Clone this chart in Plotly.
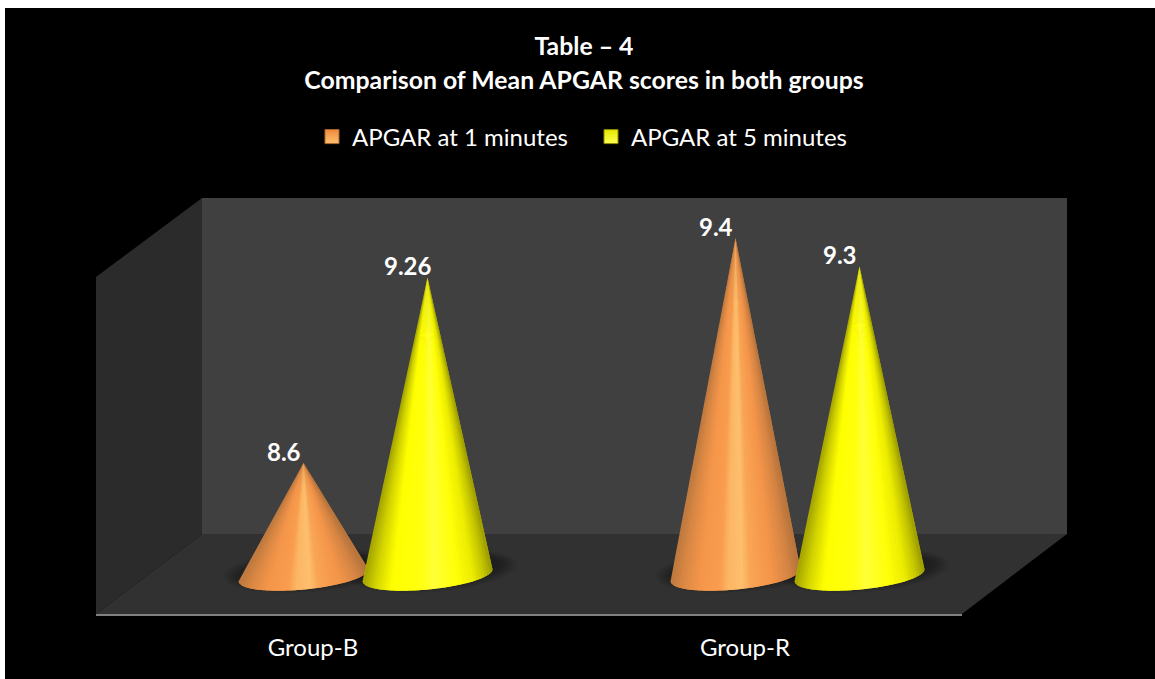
import math
import plotly.graph_objects as go

# Chart data
groups = ["Group-B", "Group-R"]
series_names = ["APGAR at 1 minutes", "APGAR at 5 minutes"]
apgar_1_min = [8.6, 9.4]
apgar_5_min = [9.26, 9.3]
labels_1_min = ["8.6", "9.4"]
labels_5_min = ["9.26", "9.3"]

W, H = 1155, 679
PLOT_BOTTOM = 614           # pixel row of the category axis
AXIS_LEFT, AXIS_RIGHT = 96, 962

# Scales: one category step and one score unit, in pixels
PX_PER_GROUP = 432.0
PX_PER_SCORE = 281.25
GROUP0_PX = 365.5
SCORE_REF, SCORE_REF_PX = 8.6, 463.0
BASE_SCORE = 8.2
SERIES_OFFSET = 62.0 / PX_PER_GROUP


def score_at(py):
    return SCORE_REF + (SCORE_REF_PX - py) / PX_PER_SCORE


def group_at(px):
    return (px - GROUP0_PX) / PX_PER_GROUP


def pap_x(px):
    return px / W


def pap_y(py):
    return 1 - py / PLOT_BOTTOM


def hex_rgb(c):
    return tuple(int(c[i:i + 2], 16) for i in (1, 3, 5))


def shade(stops, u):
    """Colour across the cone's width, u running from -1 (left) to 1 (right)."""
    for (u0, c0), (u1, c1) in zip(stops, stops[1:]):
        if u <= u1:
            f = (u - u0) / (u1 - u0)
            a, b = hex_rgb(c0), hex_rgb(c1)
            return "rgb({},{},{})".format(*(round(a[k] + (b[k] - a[k]) * f) for k in range(3)))
    return stops[-1][1]


ORANGE_STOPS = [(-1.0, "#bd783e"), (-0.82, "#d98744"), (-0.55, "#f5964a"), (-0.24, "#f99d4f"),
                (-0.12, "#fcb563"), (0.1, "#fdc06e"), (0.24, "#f9a455"), (0.55, "#f5964a"),
                (0.82, "#d68544"), (1.0, "#b5733b")]
YELLOW_STOPS = [(-1.0, "#a3a300"), (-0.8, "#d4d400"), (-0.55, "#ffff00"), (-0.1, "#ffff10"),
                (0.1, "#ffff38"), (0.45, "#ffff08"), (0.7, "#ecec00"), (0.88, "#c4c400"),
                (1.0, "#9a9a00")]

# Base ellipse of a cone, in axis units
RX = 65.0 / PX_PER_GROUP
RY = 14.0 / PX_PER_SCORE
TILT = 6.0 / PX_PER_SCORE
N_WEDGES = 48

fig = go.Figure()


def add_shadow(cx):
    """Soft contact shadow under a cone, built up from translucent ellipses."""
    for i in range(12):
        f = i / 11
        rx = (65 + 20 * (1 - f)) / PX_PER_GROUP
        ry = (13 + 9 * (1 - f)) / PX_PER_SCORE
        xs, ys = [], []
        for k in range(49):
            t = 2 * math.pi * k / 48
            xs.append(cx + 5 / PX_PER_GROUP + rx * math.cos(t))
            ys.append(BASE_SCORE + 5 / PX_PER_SCORE + TILT * math.cos(t) + ry * math.sin(t))
        fig.add_trace(go.Scatter(x=xs, y=ys, mode="lines", fill="toself", line=dict(width=0),
                                 fillcolor="rgba(0,0,0,0.028)", hoverinfo="skip", showlegend=False))


def add_cone(cx, value, stops):
    """Draw a cone as narrow wedges running from the apex to the front arc of the base."""
    def arc(u):
        return cx + RX * u, BASE_SCORE + TILT * u - RY * math.sqrt(max(0.0, 1 - u * u))

    for i in range(N_WEDGES):
        u0 = -1 + 2 * i / N_WEDGES
        u1 = min(1.0, -1 + 2 * (i + 2) / N_WEDGES)
        mid = -1 + 2 * (i + 0.5) / N_WEDGES
        pts = [arc(u0 + (u1 - u0) * k / 6) for k in range(7)]
        xs = [cx] + [p[0] for p in pts] + [cx]
        ys = [value] + [p[1] for p in pts] + [value]
        fig.add_trace(go.Scatter(x=xs, y=ys, mode="lines", fill="toself", line=dict(width=0),
                                 fillcolor=shade(stops, mid), hoverinfo="skip", showlegend=False))


series = [
    (series_names[0], apgar_1_min, labels_1_min, -SERIES_OFFSET, ORANGE_STOPS, "#f08a3c", "#fdc06e", "#a9682f"),
    (series_names[1], apgar_5_min, labels_5_min, SERIES_OFFSET, YELLOW_STOPS, "#e6e600", "#ffff50", "#8c8c00"),
]

for s in series:
    for g in range(len(groups)):
        add_shadow(g + s[3])

for g in range(len(groups)):
    for _, values, _, off, stops, _, _, _ in series:
        add_cone(g + off, values[g], stops)

# Series traces carry the values and the legend entries; their points stay unselected
# and transparent on the plot, so only the legend swatch shows.
for name, values, _, off, _, colour, light, edge in series:
    fig.add_trace(go.Scatter(
        x=[g + off for g in range(len(groups))], y=values, name=name, mode="markers",
        marker=dict(symbol="square", size=14, color=colour, line=dict(width=1, color=edge),
                    gradient=dict(type="vertical", color=light)),
        selectedpoints=[], unselected=dict(marker=dict(opacity=0)),
        hovertemplate="%{y}<extra>" + name + "</extra>",
    ))

annotations = []
for _, values, texts, off, _, _, _, _ in series:
    for g, (v, t) in enumerate(zip(values, texts)):
        annotations.append(dict(x=g + off, y=v, text="<b>" + t + "</b>", showarrow=False,
                                xshift=-20, yshift=12, font=dict(family="Lato", size=24, color="white")))


def poly(points, colour):
    path = "M" + " L".join(f"{pap_x(x):.5f},{pap_y(y):.5f}" for x, y in points) + " Z"
    return dict(type="path", xref="paper", yref="paper", path=path, fillcolor=colour,
                line=dict(width=0), layer="below")


shapes = [
    dict(type="rect", xref="paper", yref="paper", x0=pap_x(5), x1=pap_x(W), y0=pap_y(H), y1=pap_y(8),
         fillcolor="black", line=dict(width=0), layer="below"),
    poly([(202, 198), (1067, 198), (1067, 534), (202, 534)], "#404040"),      # back wall
    poly([(96, 277), (202, 198), (202, 534), (96, 614)], "#2b2b2b"),          # side wall
    poly([(96, 614), (202, 534), (1067, 534), (962, 614)], "#313131"),        # floor
]

fig.update_layout(
    width=W, height=H,
    margin=dict(l=0, r=0, t=0, b=H - PLOT_BOTTOM, autoexpand=False),
    paper_bgcolor="white", plot_bgcolor="rgba(0,0,0,0)",
    font=dict(family="Lato", color="white"),
    title=dict(
        text='<b><span style="font-size:24.8px">Table – 4</span><br>'
             '<span style="font-size:24.8px">Comparison of Mean APGAR scores in both groups</span></b>',
        font=dict(family="Lato", size=26.5, color="white"),
        x=584 / W, xanchor="center", y=1 - 55 / H, yanchor="middle",
    ),
    legend=dict(orientation="h", x=pap_x(312), xanchor="left", y=pap_y(137), yanchor="middle",
                bgcolor="rgba(0,0,0,0)", font=dict(family="Lato", size=24, color="white"),
                itemsizing="trace", itemwidth=30, traceorder="normal",
                entrywidth=234, entrywidthmode="pixels"),
    xaxis=dict(domain=[AXIS_LEFT / W, AXIS_RIGHT / W],
               range=[group_at(AXIS_LEFT), group_at(AXIS_RIGHT)],
               tickmode="array",
               tickvals=[g + group_at(313) for g in range(len(groups))],
               ticktext=groups, ticks="", showgrid=False, zeroline=False,
               showline=True, linecolor="#808080", linewidth=2, ticklabelstandoff=11,
               tickfont=dict(family="Lato", size=24, color="white")),
    yaxis=dict(range=[score_at(PLOT_BOTTOM), score_at(0)], visible=False),
    shapes=shapes, annotations=annotations, showlegend=True,
)

fig.write_html("out.html", config=dict(displayModeBar=False))
